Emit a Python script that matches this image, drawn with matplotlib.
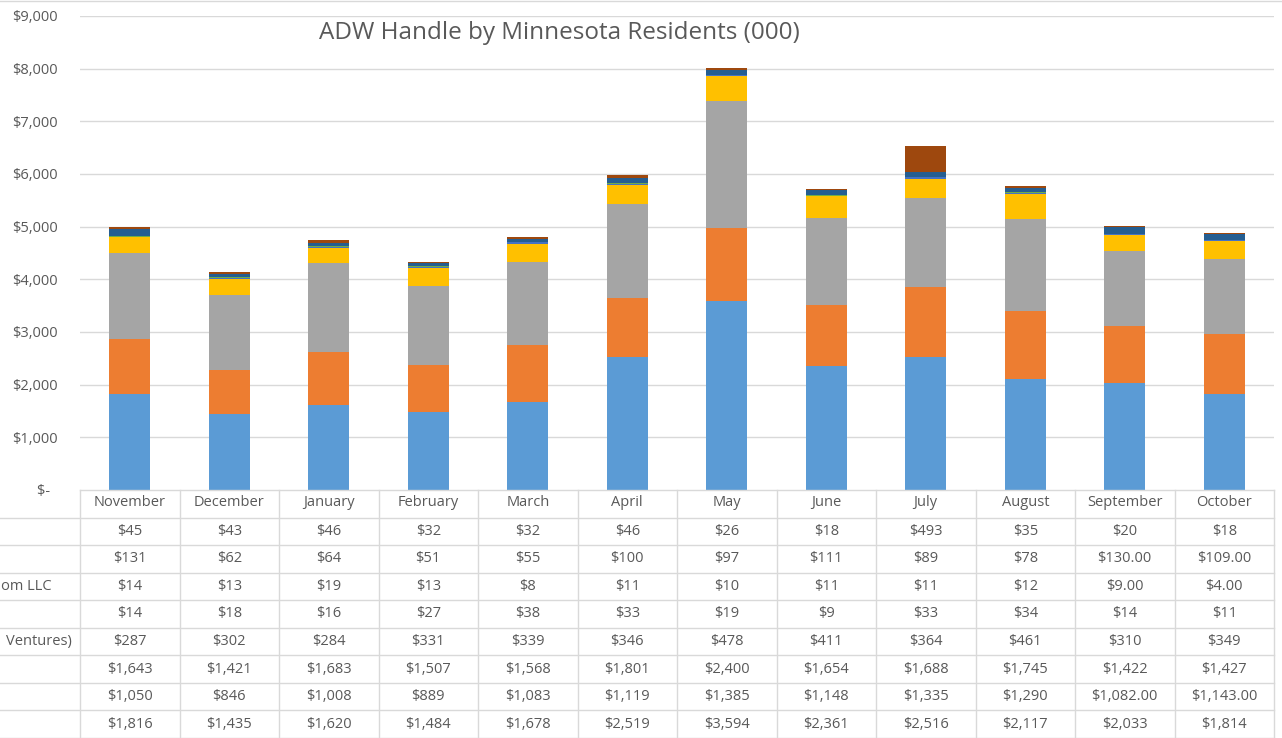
import matplotlib.pyplot as plt
import numpy as np

# Datos (miles de dólares), de abajo hacia arriba en la pila
meses = ['November', 'December', 'January', 'February', 'March', 'April',
         'May', 'June', 'July', 'August', 'September', 'October']
s1 = [1816, 1435, 1620, 1484, 1678, 2519, 3594, 2361, 2516, 2117, 2033, 1814]
s2 = [1050, 846, 1008, 889, 1083, 1119, 1385, 1148, 1335, 1290, 1082, 1143]
s3 = [1643, 1421, 1683, 1507, 1568, 1801, 2400, 1654, 1688, 1745, 1422, 1427]
s4 = [287, 302, 284, 331, 339, 346, 478, 411, 364, 461, 310, 349]
s5 = [14, 18, 16, 27, 38, 33, 19, 9, 33, 34, 14, 11]
s6 = [14, 13, 19, 13, 8, 11, 10, 11, 11, 12, 9, 4]
s7 = [131, 62, 64, 51, 55, 100, 97, 111, 89, 78, 130, 109]
s8 = [45, 43, 46, 32, 32, 46, 26, 18, 493, 35, 20, 18]
series = [s1, s2, s3, s4, s5, s6, s7, s8]
colores = ['#5B9BD5', '#ED7D31', '#A5A5A5', '#FFC000',
           '#4472C4', '#70AD47', '#255E91', '#9E480E']
# etiquetas de fila visibles (recortadas en el original)
etiquetas_fila = {5: 'om LLC', 3: 'Ventures)'}
# celdas que en la tabla aparecen con dos decimales (serie, mes)
dos_decimales = {(6, 10), (6, 11), (5, 10), (5, 11), (1, 10), (1, 11)}
y_ticks = [0, 1000, 2000, 3000, 4000, 5000, 6000, 7000, 8000, 9000]
titulo = 'ADW Handle by Minnesota Residents (000)'

plt.rcParams['font.family'] = ['Open Sans', 'DejaVu Sans']
gris_texto = '#595959'
gris_linea = '#D9D9D9'
fs = 10.5

W, H = 1282, 738
fig = plt.figure(figsize=(W / 100, H / 100), dpi=100)
izq, der, base, tope = 80, 1274, 490, 16
ax = fig.add_axes([izq / W, 1 - base / H, (der - izq) / W, (base - tope) / H])

# borde superior del área del gráfico
fig.add_artist(plt.Line2D([0, 1], [1 - 1 / H, 1 - 1 / H], color=gris_linea, lw=1))

x = np.arange(len(meses))
abajo = np.zeros(len(meses))
for vals, c in zip(series, colores):
    ax.bar(x, vals, width=0.41, bottom=abajo, color=c, linewidth=0, zorder=3)
    abajo += np.array(vals)

ax.set_xlim(-0.5, len(meses) - 0.5)
ax.set_ylim(0, 9000)
ax.set_yticks(y_ticks)
ax.set_yticklabels(['$-  ' if v == 0 else f'${v:,}' for v in y_ticks],
                   fontsize=fs, color=gris_texto)
ax.tick_params(axis='y', length=0, pad=16)
ax.set_xticks([])
for v in y_ticks[1:]:
    ax.axhline(v, color=gris_linea, linewidth=1, zorder=1)
for s in ax.spines.values():
    s.set_visible(False)

fig.text(559 / W, 1 - 33 / H, titulo, ha='center', va='center',
         fontsize=17.5, color=gris_texto)

# Tabla de datos
tax = fig.add_axes([izq / W, 0, (der - izq) / W, (H - base) / H])
n_filas = 9
tax.set_xlim(-0.5, len(meses) - 0.5)
tax.set_ylim(n_filas, 0)
tax.axis('off')
col_px = (der - izq) / len(meses)
x_borde = -0.5 - izq / col_px

for i in range(len(meses) + 1):
    tax.plot([i - 0.5, i - 0.5], [0, n_filas], color=gris_linea, lw=1,
             clip_on=False)
tax.plot([-0.5, len(meses) - 0.5], [0, 0], color=gris_linea, lw=1, clip_on=False)
for r in range(1, n_filas + 1):
    tax.plot([x_borde, len(meses) - 0.5], [r, r], color=gris_linea, lw=1,
             clip_on=False)

for j, m in enumerate(meses):
    tax.text(j, 0.45, m, ha='center', va='center', fontsize=fs, color=gris_texto)

orden = list(range(len(series)))[::-1]
for r, k in enumerate(orden, start=1):
    for j, v in enumerate(series[k]):
        txt = f'${v:,.2f}' if (k, j) in dos_decimales else f'${v:,.0f}'
        tax.text(j, r + 0.5, txt, ha='center', va='center', fontsize=fs,
                 color=gris_texto)
    if k in etiquetas_fila:
        if k == 3:
            tax.text(-0.5 - 8 / col_px, r + 0.5, etiquetas_fila[k], ha='right',
                     va='center', fontsize=fs, color=gris_texto, clip_on=False)
        else:
            tax.text(x_borde + 1 / col_px, r + 0.5, etiquetas_fila[k], ha='left',
                     va='center', fontsize=fs, color=gris_texto, clip_on=False)

fig.savefig('out.png', dpi=100)
